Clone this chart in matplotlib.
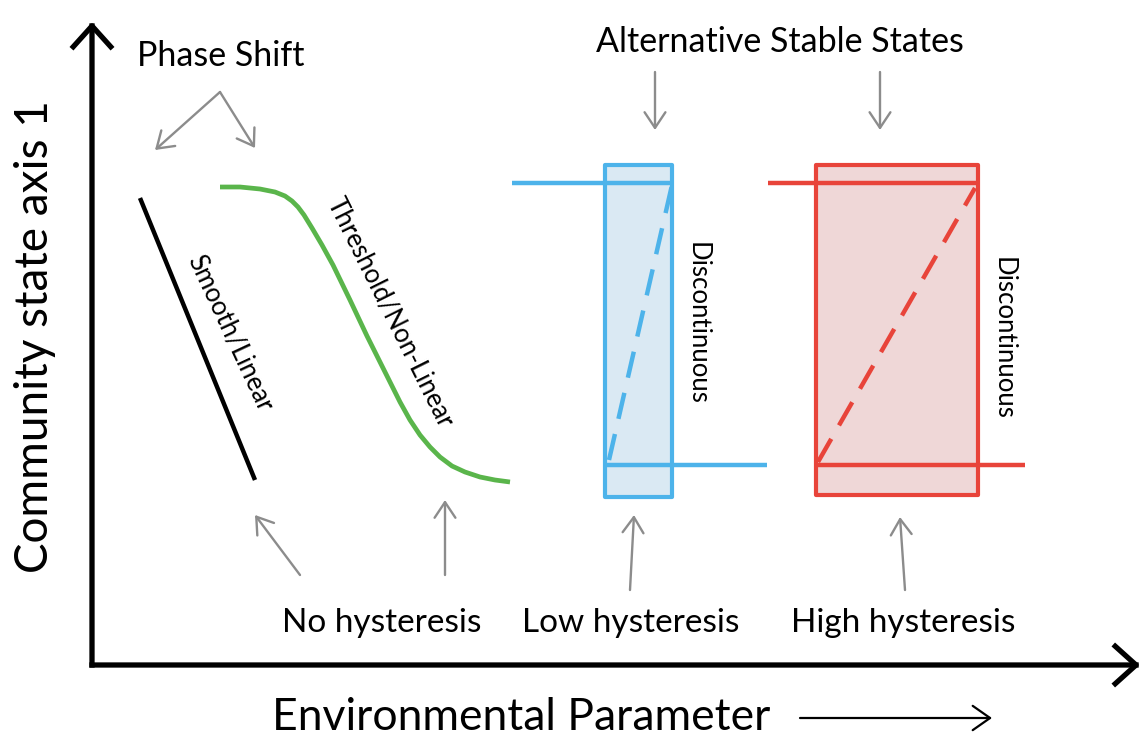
import matplotlib
matplotlib.use("Agg")
import matplotlib.pyplot as plt
from matplotlib.patches import Rectangle

# all positions in image pixels (x to the right, y downwards)
W, H = 1142, 744

axis_origin = (92, 665)
axis_x_tip = (1140, 665)
axis_y_tip = (92, 22)

# smooth / linear response
linear_x = [140, 255]
linear_y = [198, 480]

# threshold / non-linear response
green_x = [220, 240, 260, 275, 285, 292, 298, 304, 312, 322, 333, 350, 367, 384, 400, 410,
           420, 430, 440, 452, 465, 480, 495, 510]
green_y = [187, 187, 189, 192, 196, 201, 207, 215, 228, 245, 265, 300, 336, 370, 402, 420,
           435, 447, 457, 466, 472, 477, 480, 482]

# low hysteresis (blue)
blue_box = (605, 165, 672, 497)          # left, top, right, bottom
blue_upper = ([512, 672], [183, 183])
blue_lower = ([607, 767], [465, 465])
blue_dash = ([609, 672], [460, 185])

# high hysteresis (red)
red_box = (816, 165, 978, 495)
red_upper = ([768, 978], [183, 183])
red_lower = ([816, 1025], [465, 465])
red_dash = ([818, 975], [462, 188])

# grey pointer arrows: (tail, head)
pointer_arrows = [
    ((220, 92), (155, 150)),
    ((220, 92), (255, 148)),
    ((655, 72), (655, 130)),
    ((880, 72), (880, 130)),
    ((300, 575), (255, 515)),
    ((445, 575), (445, 500)),
    ((630, 590), (634, 515)),
    ((905, 590), (900, 517)),
]

blue = "#4DB3EA"
blue_fill = "#DAE9F3"
red = "#E8443A"
red_fill = "#EFD7D7"
green = "#5AB54B"
grey = "#8C8C8C"

font = ["Lato", "DejaVu Sans"]

fig = plt.figure(figsize=(W / 100, H / 100), dpi=100)
ax = fig.add_axes([0, 0, 1, 1])
ax.set_xlim(0, W)
ax.set_ylim(H, 0)
ax.axis("off")

# main axes
for tip in (axis_x_tip, axis_y_tip):
    ax.annotate("", xy=tip, xytext=axis_origin,
                arrowprops=dict(arrowstyle="->,head_length=0.5,head_width=0.45",
                                color="black", lw=3.8, shrinkA=0, shrinkB=0,
                                mutation_scale=30, capstyle="projecting"))

ax.text(35, 337, "Community state axis 1", rotation=90, ha="center", va="center",
        fontsize=33, family=font)
ax.text(272, 718, "Environmental Parameter", ha="left", va="center",
        fontsize=32, family=font)
ax.annotate("", xy=(992, 718), xytext=(800, 718),
            arrowprops=dict(arrowstyle="->,head_length=0.5,head_width=0.35",
                            color="black", lw=1.6, shrinkA=0, shrinkB=0,
                            mutation_scale=25))

# curves
ax.plot(linear_x, linear_y, color="black", lw=3.2, solid_capstyle="butt")
ax.plot(green_x, green_y, color=green, lw=3.4, solid_capstyle="butt", solid_joinstyle="round")

ax.text(230, 333, "Smooth/Linear", rotation=-65, rotation_mode="anchor",
        ha="center", va="center", fontsize=18.5, family=font)
ax.text(390, 312, "Threshold/Non-Linear", rotation=-63.5, rotation_mode="anchor",
        ha="center", va="center", fontsize=18.5, family=font)

# hysteresis boxes
for box, upper, lower, dash, col, fill, tx, ty in [
    (blue_box, blue_upper, blue_lower, blue_dash, blue, blue_fill, 697, 323),
    (red_box, red_upper, red_lower, red_dash, red, red_fill, 1003, 338),
]:
    l, t, r, b = box
    ax.add_patch(Rectangle((l, t), r - l, b - t, facecolor=fill, edgecolor=col,
                           lw=3, joinstyle="round"))
    ax.plot(*upper, color=col, lw=3.2, solid_capstyle="butt")
    ax.plot(*lower, color=col, lw=3.2, solid_capstyle="butt")
    ax.plot(*dash, color=col, lw=3.2, dashes=(6, 3.5), dash_capstyle="butt")
    ax.text(tx, ty, "Discontinuous", rotation=-90, ha="center", va="center",
            fontsize=18.5, family=font)

# grey pointers
for tail, head in pointer_arrows:
    ax.annotate("", xy=head, xytext=tail,
                arrowprops=dict(arrowstyle="->,head_length=0.45,head_width=0.3",
                                color=grey, lw=1.7, shrinkA=0, shrinkB=0,
                                mutation_scale=25))

ax.text(221, 56, "Phase Shift", ha="center", va="center", fontsize=24.5, family=font)
ax.text(780, 42, "Alternative Stable States", ha="center", va="center",
        fontsize=24.5, family=font)

ax.text(382, 623, "No hysteresis", ha="center", va="center", fontsize=24, family=font)
ax.text(631, 623, "Low hysteresis", ha="center", va="center", fontsize=24, family=font)
ax.text(903, 623, "High hysteresis", ha="center", va="center", fontsize=24, family=font)

fig.savefig("out.png", dpi=100)
